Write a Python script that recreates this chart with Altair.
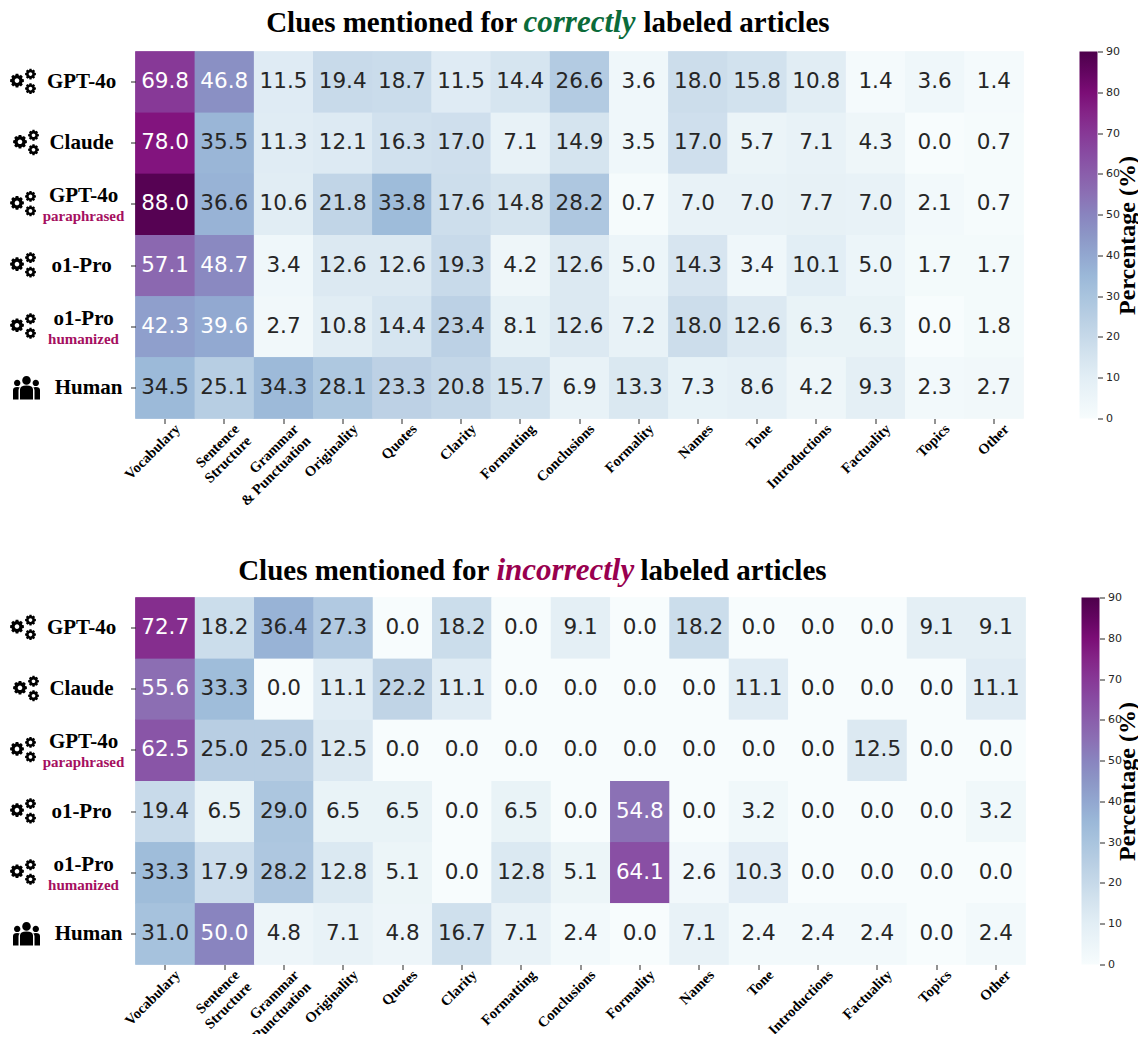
import math
import altair as alt
import pandas as pd

clues = ["Vocabulary", "Sentence\nStructure", "Grammar\n& Punctuation", "Originality", "Quotes", "Clarity",
         "Formatting", "Conclusions", "Formality", "Names", "Tone", "Introductions", "Factuality", "Topics", "Other"]
rows = ["GPT-4o", "Claude", "GPT-4o paraphrased", "o1-Pro", "o1-Pro humanized", "Human"]
names = ["GPT-4o", "Claude", "GPT-4o", "o1-Pro", "o1-Pro", "Human"]
subs = ["", "", "paraphrased", "", "humanized", ""]

correct_gpt = [69.8, 46.8, 11.5, 19.4, 18.7, 11.5, 14.4, 26.6, 3.6, 18.0, 15.8, 10.8, 1.4, 3.6, 1.4]
correct_claude = [78.0, 35.5, 11.3, 12.1, 16.3, 17.0, 7.1, 14.9, 3.5, 17.0, 5.7, 7.1, 4.3, 0.0, 0.7]
correct_para = [88.0, 36.6, 10.6, 21.8, 33.8, 17.6, 14.8, 28.2, 0.7, 7.0, 7.0, 7.7, 7.0, 2.1, 0.7]
correct_o1 = [57.1, 48.7, 3.4, 12.6, 12.6, 19.3, 4.2, 12.6, 5.0, 14.3, 3.4, 10.1, 5.0, 1.7, 1.7]
correct_human_o1 = [42.3, 39.6, 2.7, 10.8, 14.4, 23.4, 8.1, 12.6, 7.2, 18.0, 12.6, 6.3, 6.3, 0.0, 1.8]
correct_human = [34.5, 25.1, 34.3, 28.1, 23.3, 20.8, 15.7, 6.9, 13.3, 7.3, 8.6, 4.2, 9.3, 2.3, 2.7]
wrong_gpt = [72.7, 18.2, 36.4, 27.3, 0.0, 18.2, 0.0, 9.1, 0.0, 18.2, 0.0, 0.0, 0.0, 9.1, 9.1]
wrong_claude = [55.6, 33.3, 0.0, 11.1, 22.2, 11.1, 0.0, 0.0, 0.0, 0.0, 11.1, 0.0, 0.0, 0.0, 11.1]
wrong_para = [62.5, 25.0, 25.0, 12.5, 0.0, 0.0, 0.0, 0.0, 0.0, 0.0, 0.0, 0.0, 12.5, 0.0, 0.0]
wrong_o1 = [19.4, 6.5, 29.0, 6.5, 6.5, 0.0, 6.5, 0.0, 54.8, 0.0, 3.2, 0.0, 0.0, 0.0, 3.2]
wrong_human_o1 = [33.3, 17.9, 28.2, 12.8, 5.1, 0.0, 12.8, 5.1, 64.1, 2.6, 10.3, 0.0, 0.0, 0.0, 0.0]
wrong_human = [31.0, 50.0, 4.8, 7.1, 4.8, 16.7, 7.1, 2.4, 0.0, 7.1, 2.4, 2.4, 2.4, 0.0, 2.4]
colorbar_ticks = [0, 10, 20, 30, 40, 50, 60, 70, 80, 90]
color_stops = [0, 11.25, 22.5, 33.75, 45, 56.25, 67.5, 78.75, 90]
color_range = ["#f7fcfd", "#e0ecf4", "#bfd3e6", "#9ebcda", "#8c96c6", "#8c6bb1", "#88419d", "#810f7c", "#4d004b"]

SERIF = "Liberation Serif"
SANS = "DejaVu Sans"
DARK = "#262626"


def circle(cx, cy, r, sweep=1):
    return (f"M{cx - r:.2f} {cy:.2f}A{r} {r} 0 1 {sweep} {cx + r:.2f} {cy:.2f}"
            f"A{r} {r} 0 1 {sweep} {cx - r:.2f} {cy:.2f}Z")


def gear(cx, cy, r, teeth=8):
    pts = []
    n = teeth
    for i in range(n):
        a = 2 * math.pi * i / n
        for da, rad in ((-0.30, 0.8), (-0.19, 1.0), (0.19, 1.0), (0.30, 0.8)):
            pts.append((cx + r * rad * math.cos(a + da), cy + r * rad * math.sin(a + da)))
    body = "M" + "L".join(f"{p[0]:.2f} {p[1]:.2f}" for p in pts) + "Z"
    return body + circle(cx, cy, round(r * 0.33, 2), 0)


# Icon outlines, drawn at size=4 so that one path unit equals one pixel.
GEARS = gear(-6.5, -1.5, 7) + gear(7, -8, 5.5) + gear(7, 6.5, 5.5)
PEOPLE = (circle(0, -7.5, 4.3) + circle(-9.3, -5, 3.2) + circle(9.3, -5, 3.2)
          + "M-6.5 11.5L-6.5 1.5Q-6.5 -2.3 0 -2.3Q6.5 -2.3 6.5 1.5L6.5 11.5Z"
          + "M-13.5 11.5L-13.5 2Q-13.5 -1 -9.3 -1Q-7.8 -1 -6.8 -0.5Q-8 0.7 -8 2.5L-8 11.5Z"
          + "M13.5 11.5L13.5 2Q13.5 -1 9.3 -1Q7.8 -1 6.8 -0.5Q8 0.7 8 2.5L8 11.5Z")


def panel(matrix, word, word_color, w, h, title_x, title_y, bar_x, bar_title_pad):
    cells = pd.DataFrame(
        [{"row": r, "clue": c, "value": v}
         for r, vals in zip(rows, matrix) for c, v in zip(clues, vals)]
    )
    labels = pd.DataFrame({"row": rows, "name": names, "sub": subs})
    x = alt.X("clue:N", sort=clues, title=None, scale=alt.Scale(paddingInner=0, paddingOuter=0),
              axis=alt.Axis(labelExpr="split(datum.label, '\\n')", labelAngle=-45, labelAlign="right",
                            labelBaseline="middle", labelFont=SERIF, labelFontWeight="bold", labelFontSize=14.5,
                            labelColor="black", labelLineHeight=17, labelPadding=3, labelOffset=13,
                            labelOverlap=False, labelLimit=0, tickColor=DARK, tickSize=5, domain=False, grid=False))
    y = alt.Y("row:N", sort=rows, title=None, scale=alt.Scale(paddingInner=0, paddingOuter=0),
              axis=alt.Axis(labels=False, tickColor=DARK, tickSize=5, domain=False, grid=False))

    color = alt.Color("value:Q", scale=alt.Scale(domain=color_stops, range=color_range),
                      legend=alt.Legend(type="gradient", orient="none", legendX=bar_x, legendY=0, title=None,
                                        direction="vertical", gradientLength=h, gradientThickness=18,
                                        gradientStrokeWidth=0, labelExpr="''"))
    # Slightly oversized cells underneath close the hairline seams between fractional-width cells.
    under = alt.Chart(cells).mark_rect(width=w / 15 + 0.6, height=h / 6 + 0.6).encode(x=x, y=y, color=color)
    heat = alt.Chart(cells).mark_rect(strokeWidth=0).encode(x=x, y=y, color=color)
    nums = alt.Chart(cells).mark_text(font=SANS, fontSize=21.5, baseline="middle").encode(
        x=x, y=y,
        text=alt.Text("value:Q", format=".1f"),
        color=alt.condition("datum.value >= 39", alt.value("white"), alt.value(DARK)))

    name_style = dict(font=SERIF, fontWeight="bold", fontSize=21, color="black", baseline="middle", align="center")
    single = alt.Chart(labels).transform_filter("datum.sub == '' && datum.name != 'Human'").mark_text(
        **name_style).encode(x=alt.value(-54), y=y, text="name:N")
    human = alt.Chart(labels).transform_filter("datum.name == 'Human'").mark_text(
        **name_style).encode(x=alt.value(-47), y=y, text="name:N")
    double = alt.Chart(labels).transform_filter("datum.sub != ''").mark_text(dy=-8, **name_style).encode(
        x=alt.value(-52), y=y, text="name:N")
    sub = alt.Chart(labels).transform_filter("datum.sub != ''").mark_text(
        font=SERIF, fontWeight="bold", fontSize=15, color="#a50f5f", baseline="middle", align="center", dy=12
    ).encode(x=alt.value(-52), y=y, text="sub:N")

    icon_style = dict(filled=True, color="black", opacity=1, size=4, strokeWidth=0)
    gears = alt.Chart(labels).transform_filter("datum.name != 'Human' && datum.name != 'Claude'").mark_point(
        shape=GEARS, **icon_style).encode(x=alt.value(-112), y=y)
    gears_claude = alt.Chart(labels).transform_filter("datum.name == 'Claude'").mark_point(
        shape=GEARS, **icon_style).encode(x=alt.value(-109), y=y)
    people = alt.Chart(labels).transform_filter("datum.name == 'Human'").mark_point(
        shape=PEOPLE, **icon_style).encode(x=alt.value(-109), y=y)

    t_style = dict(font=SERIF, fontSize=29, fontWeight="bold", baseline="middle")
    title_rows = pd.DataFrame({"a": ["Clues mentioned for"], "b": [word], "c": ["labeled articles"]})
    t_a = alt.Chart(title_rows).mark_text(align="right", color="black", **t_style).encode(
        x=alt.value(title_x[0]), y=alt.value(title_y), text="a:N")
    t_b = alt.Chart(title_rows).mark_text(align="left", color=word_color, font=SERIF, fontSize=31,
                                          fontWeight="bold", baseline="middle", fontStyle="italic").encode(
        x=alt.value(title_x[1]), y=alt.value(title_y), text="b:N")
    t_c = alt.Chart(title_rows).mark_text(align="left", color="black", **t_style).encode(
        x=alt.value(title_x[2]), y=alt.value(title_y), text="c:N")

    inner = alt.layer(under, heat, nums, single, human, double, sub, gears, gears_claude, people, t_a, t_b, t_c)
    bar_axis = alt.Chart(pd.DataFrame({"tick": colorbar_ticks})).mark_point(opacity=0).encode(
        x=alt.value(0),
        y=alt.Y("tick:Q", scale=alt.Scale(domain=[0, 90], nice=False), title="Percentage (%)",
                axis=alt.Axis(orient="right", offset=bar_x + 18 - w, values=colorbar_ticks, grid=False,
                              domain=False, tickColor=DARK, tickSize=5, labelFont=SANS, labelFontSize=11,
                              labelColor=DARK, labelPadding=3, titleFont=SERIF, titleFontWeight="bold",
                              titleFontSize=24, titleColor="black", titleAngle=270, titlePadding=bar_title_pad)))
    return alt.layer(inner, bar_axis).resolve_scale(y="independent").properties(width=w, height=h)


top = panel([correct_gpt, correct_claude, correct_para, correct_o1, correct_human_o1, correct_human],
            "correctly", "#0b6b3a", 888, 367, (382, 388, 508), -29, 944, 20)
bottom = panel([wrong_gpt, wrong_claude, wrong_para, wrong_o1, wrong_human_o1, wrong_human],
               "incorrectly", "#99004f", 890, 367, (354, 361, 505), -27, 946, 18)

chart = (alt.vconcat(top, bottom, spacing=179, bounds="flush")
         .resolve_scale(color="independent")
         .properties(padding={"left": 1.5, "top": -1.5, "right": -1.5, "bottom": -21}).configure_view(stroke=None))
chart.save("out.html", embed_options={"renderer": "svg", "actions": False})
